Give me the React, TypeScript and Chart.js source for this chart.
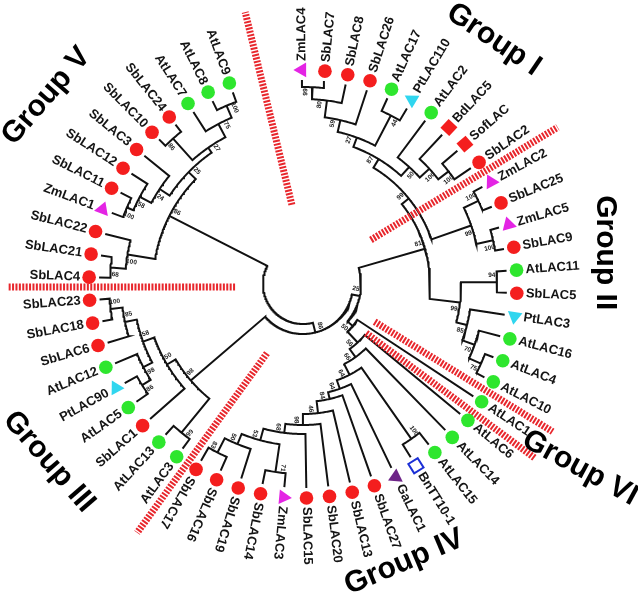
import React, { useEffect, useRef } from 'react';
import { Chart, registerables } from 'chart.js';
Chart.register(...registerables);

// ---------- DATA ----------
// leaves in clockwise order starting at the top (ZmLAC4)
const leafNames = [
  'ZmLAC4', 'SbLAC7', 'SbLAC8', 'SbLAC26', 'AtLAC17', 'PtLAC110', 'AtLAC2', 'BdLAC5', 'SofLAC', 'SbLAC2',
  'ZmLAC2', 'SbLAC25', 'ZmLAC5', 'SbLAC9', 'AtLAC11', 'SbLAC5', 'PtLAC3', 'AtLAC16', 'AtLAC4', 'AtLAC10',
  'AtLAC1', 'AtLAC6', 'AtLAC14', 'AtLAC15', 'BnTT10-1', 'GaLAC1', 'SbLAC27', 'SbLAC13', 'SbLAC20', 'SbLAC15',
  'ZmLAC3', 'SbLAC14', 'SbLAC19', 'SbLAC16', 'SbLAC17', 'AtLAC3', 'AtLAC13', 'SbLAC1', 'AtLAC5', 'PtLAC90',
  'AtLAC12', 'SbLAC6', 'SbLAC18', 'SbLAC23', 'SbLAC4', 'SbLAC21', 'SbLAC22', 'ZmLAC1', 'SbLAC11', 'SbLAC12',
  'SbLAC3', 'SbLAC10', 'SbLAC24', 'AtLAC7', 'AtLAC8', 'AtLAC9',
];

// internal nodes (clades)
const cladeIds = [
  'I99a', 'I80', 'I59', 'I44', 'I27', 'I100b', 'I100a', 'I50', 'I87',
  'II100a', 'II100b', 'II99a', 'I99',
  'II94', 'II75', 'II70', 'II85', 'II99b', 'N81',
  'IV83', 'IV50b', 'IV71', 'IV53', 'IV68', 'IV98', 'IV46', 'IV84', 'IV64b', 'IV100', 'IV64a', 'IV66', 'IV56', 'IV50',
  'N25',
  'III100', 'III85', 'III86', 'III98b', 'III58', 'III50', 'III99', 'III98',
  'N86',
  'V68', 'V100a', 'V100b', 'V58', 'V24', 'V86b', 'V100c', 'V75', 'V27', 'V25', 'V86',
  'root',
];
const cladeChildren = [
  ['ZmLAC4', 'SbLAC7'], ['I99a', 'SbLAC8'], ['I80', 'SbLAC26'], ['AtLAC17', 'PtLAC110'], ['I59', 'I44'],
  ['SofLAC', 'SbLAC2'], ['BdLAC5', 'I100b'], ['AtLAC2', 'I100a'], ['I27', 'I50'],
  ['ZmLAC2', 'SbLAC25'], ['ZmLAC5', 'SbLAC9'], ['II100a', 'II100b'], ['I87', 'II99a'],
  ['AtLAC11', 'SbLAC5'], ['AtLAC4', 'AtLAC10'], ['AtLAC16', 'II75'], ['PtLAC3', 'II70'], ['II94', 'II85'], ['I99', 'II99b'],
  ['SbLAC17', 'SbLAC16'], ['IV83', 'SbLAC19'], ['SbLAC14', 'ZmLAC3'], ['IV50b', 'IV71'], ['IV53', 'SbLAC15'],
  ['IV68', 'SbLAC20'], ['IV98', 'SbLAC13'], ['IV46', 'SbLAC27'], ['IV84', 'GaLAC1'], ['BnTT10-1', 'AtLAC15'],
  ['IV64b', 'IV100'], ['IV64a', 'AtLAC14'], ['IV66', 'AtLAC6'], ['IV56', 'AtLAC1'],
  ['IV50', 'N81'],
  ['SbLAC23', 'SbLAC18'], ['III100', 'SbLAC6'], ['PtLAC90', 'AtLAC5'], ['AtLAC12', 'III86'], ['III85', 'III98b'],
  ['III58', 'SbLAC1'], ['AtLAC13', 'AtLAC3'], ['III50', 'III99'],
  ['III98', 'N25'],
  ['SbLAC21', 'SbLAC4'], ['SbLAC22', 'V68'], ['ZmLAC1', 'SbLAC11'], ['V100b', 'SbLAC12'], ['V58', 'SbLAC3'],
  ['SbLAC10', 'SbLAC24'], ['AtLAC8', 'AtLAC9'], ['AtLAC7', 'V100c'], ['V86b', 'V75'], ['V24', 'V27'], ['V100a', 'V25'],
  ['V86', 'N86'],
];
const cladeSupport = [
  99, 80, 59, 44, 27, 100, 100, 50, 87,
  100, 100, 99, 99,
  94, 75, 70, 85, 99, 81,
  83, 50, 71, 53, 68, 98, 46, 84, 64, 100, 64, 66, 56, 50,
  25,
  100, 85, 86, 98, 58, 50, 99, 98,
  86,
  68, 100, 100, 58, 24, 86, 100, 75, 27, 25, 86,
  null,
];
const cladeDepth = [
  197, 185, 168, 190, 156, 184, 171, 158, 146,
  194, 195, 178, 136,
  194, 195, 182, 169, 158, 127,
  189, 173, 190, 162, 150, 141, 130, 118, 111, 189, 102, 90, 80, 65,
  58,
  194, 182, 190, 180, 170, 158, 192, 148,
  50,
  193, 178, 192, 185, 172, 195, 194, 181, 166, 160, 150,
  40,
];

const groupNames = ['Group I', 'Group II', 'Group III', 'Group IV', 'Group V', 'Group VI'];
// group separators: [angle0, r0, angle1, r1]
const separators = [
  [98, 80, 102, 278],
  [33, 81, 31.6, 299],
  [182.5, 68, 180.6, 295],
  [-117.5, 78, -123.7, 299],
  [-27.8, 81, -30.6, 290],
  [-37.9, 80, -36.9, 290],
];

// ---------- LAYOUT / STYLE ----------
const A0 = 90.3;
const STEP = 6.185;
const TIP_R = 204;
const MARK_R = 214;
const LABEL_R = 223;
const groupPlacement: Record<string, [number, number, number]> = {
  'Group I': [52, 310, 34],
  'Group II': [5.9, 304, 90],
  'Group III': [-145, 310, 49],
  'Group IV': [-70, 296, -23],
  'Group V': [143.8, 318, -49],
  'Group VI': [-33.6, 332.6, 28.6],
};

const leafIdx = new Map(leafNames.map((n, i) => [n, i] as [string, number]));
const cladeIdx = new Map(cladeIds.map((n, i) => [n, i] as [string, number]));
const parentOf = new Map<string, string>();
cladeChildren.forEach((kids, k) => kids.forEach((c) => parentOf.set(c, cladeIds[k])));

function angleOf(id: string): number {
  if (leafIdx.has(id)) return A0 - (leafIdx.get(id) as number) * STEP;
  const as = cladeChildren[cladeIdx.get(id) as number].map(angleOf);
  return (Math.min(...as) + Math.max(...as)) / 2;
}
function depthOf(id: string): number {
  return leafIdx.has(id) ? TIP_R : cladeDepth[cladeIdx.get(id) as number];
}
const D = Math.PI / 180;
const P = (a: number, r: number) => ({ x: r * Math.cos(a * D), y: r * Math.sin(a * D) });
const outward = (a: number) => a > -123;

type Kind = { style: string; fill: string; stroke: string; radius: number; border: number; down?: boolean; tri?: boolean; sq?: boolean };
const KINDS: Record<string, Kind> = {
  sb: { style: 'circle', fill: '#f41e1e', stroke: '#f41e1e', radius: 6.8, border: 0 },
  at: { style: 'circle', fill: '#2ee62e', stroke: '#2ee62e', radius: 6.8, border: 0 },
  zm: { style: 'triangle', fill: '#e424e4', stroke: '#e424e4', radius: 8.5, border: 0, tri: true },
  pt: { style: 'triangle', fill: '#30d6ef', stroke: '#30d6ef', radius: 8.5, border: 0, tri: true },
  ptd: { style: 'triangle', fill: '#30d6ef', stroke: '#30d6ef', radius: 8.5, border: 0, tri: true, down: true },
  ga: { style: 'triangle', fill: '#6e2488', stroke: '#6e2488', radius: 8.5, border: 0, tri: true, down: true },
  dm: { style: 'rect', fill: '#f41e1e', stroke: '#f41e1e', radius: 8.5, border: 0, sq: true },
  bn: { style: 'rect', fill: '#ffffff', stroke: '#1b2fd6', radius: 7.8, border: 2, sq: true },
};
function kindOf(n: string): string {
  if (n === 'PtLAC3') return 'ptd';
  if (n.startsWith('Sb')) return 'sb';
  if (n.startsWith('At')) return 'at';
  if (n.startsWith('Zm')) return 'zm';
  if (n.startsWith('Pt')) return 'pt';
  if (n.startsWith('Ga')) return 'ga';
  if (n.startsWith('Bn')) return 'bn';
  return 'dm';
}

export default function App() {
  const ref = useRef<HTMLCanvasElement>(null);
  useEffect(() => {
    if (!ref.current) return;

    // branches
    const branchData: any[] = [];
    cladeIds.forEach((id, k) => {
      const r = cladeDepth[k];
      const kids = cladeChildren[k].map((c) => ({ a: angleOf(c), r: depthOf(c) })).sort((p, q) => q.a - p.a);
      const f = kids[0];
      const l = kids[kids.length - 1];
      branchData.push(P(f.a, f.r));
      const n = Math.max(2, Math.ceil((f.a - l.a) / 0.5));
      for (let s = 0; s <= n; s++) branchData.push(P(f.a - ((f.a - l.a) * s) / n, r));
      branchData.push(P(l.a, l.r));
      for (let j = 1; j < kids.length - 1; j++) {
        branchData.push({ x: 0, y: null });
        branchData.push(P(kids[j].a, r));
        branchData.push(P(kids[j].a, kids[j].r));
      }
      branchData.push({ x: 0, y: null });
    });

    // separators
    const sepData: any[] = [];
    separators.forEach(([a0, r0, a1, r1]) => {
      sepData.push(P(a0, r0), P(a1, r1), { x: 0, y: null });
    });

    // markers
    const markerSets = Object.keys(KINDS).map((key) => {
      const k = KINDS[key];
      const names = leafNames.filter((n) => kindOf(n) === key);
      const rot = names.map((n) => {
        const a = angleOf(n);
        if (k.tri) return (outward(a) ? -a : 180 - a) + (k.down ? 180 : 0);
        if (k.sq) return -a;
        return 0;
      });
      return {
        label: key,
        data: names.map((n) => P(angleOf(n), MARK_R)),
        showLine: false,
        pointStyle: k.style,
        pointRadius: k.radius,
        pointHoverRadius: k.radius,
        pointRotation: rot,
        pointBackgroundColor: k.fill,
        pointBorderColor: k.stroke,
        pointBorderWidth: k.border,
      };
    });

    const textPlugin = {
      id: 'treeText',
      afterDatasetsDraw(chart: any) {
        const { ctx } = chart;
        const xs = chart.scales.x;
        const ys = chart.scales.y;
        const px = (p: { x: number; y: number }) => [xs.getPixelForValue(p.x), ys.getPixelForValue(p.y)];
        ctx.save();
        // leaf labels
        ctx.font = 'bold 13px "Liberation Sans", Arial, sans-serif';
        ctx.fillStyle = '#141414';
        ctx.textBaseline = 'middle';
        leafNames.forEach((n) => {
          const a = angleOf(n);
          const out = outward(a);
          const [X, Y] = px(P(a, LABEL_R));
          ctx.save();
          ctx.translate(X, Y);
          ctx.rotate((out ? -a : 180 - a) * D);
          ctx.textAlign = out ? 'left' : 'right';
          ctx.fillText(n, 0, 0);
          ctx.restore();
        });
        // support values
        ctx.font = 'bold 6.5px "Liberation Sans", Arial, sans-serif';
        ctx.fillStyle = '#222';
        cladeIds.forEach((id, k) => {
          const sup = cladeSupport[k];
          if (sup === null || sup === undefined) return;
          const a = angleOf(id);
          const r = cladeDepth[k];
          const par = parentOf.get(id);
          let sign = 1;
          if (par) {
            const sib = cladeChildren[cladeIdx.get(par) as number].find((c) => c !== id) as string;
            sign = a >= angleOf(sib) ? 1 : -1;
          }
          const la = a + sign * (7 / r) / D;
          const [X, Y] = px(P(la, r - 5));
          const out = outward(a);
          ctx.save();
          ctx.translate(X, Y);
          ctx.rotate((out ? -a : 180 - a) * D);
          ctx.textAlign = 'center';
          ctx.fillText(String(sup), 0, 0);
          ctx.restore();
        });
        // group labels
        ctx.font = 'bold 30px "Liberation Sans", Arial, sans-serif';
        ctx.fillStyle = '#000';
        ctx.textAlign = 'center';
        ctx.textBaseline = 'middle';
        groupNames.forEach((g) => {
          const [a, r, rot] = groupPlacement[g];
          const [X, Y] = px(P(a, r));
          ctx.save();
          ctx.translate(X, Y);
          ctx.rotate(rot * D);
          ctx.fillText(g, 0, 0);
          ctx.restore();
        });
        ctx.restore();
      },
    };

    const chart = new Chart(ref.current, {
      type: 'scatter',
      data: {
        datasets: [
          ...markerSets,
          {
            label: 'separators',
            data: sepData,
            showLine: true,
            pointRadius: 0,
            borderColor: '#e8262c',
            borderWidth: 7,
            borderDash: [2, 1.4],
            borderCapStyle: 'butt',
          },
          {
            label: 'branches',
            data: branchData,
            showLine: true,
            pointRadius: 0,
            borderColor: '#111',
            borderWidth: 2,
            borderJoinStyle: 'miter',
            borderCapStyle: 'butt',
          },
        ] as any,
      },
      options: {
        responsive: false,
        animation: false,
        events: [],
        layout: { padding: 0, autoPadding: false },
        scales: {
          x: { type: 'linear', min: -303, max: 335, display: false },
          y: { type: 'linear', min: -315, max: 284, display: false },
        },
        plugins: { legend: { display: false }, tooltip: { enabled: false } },
      },
      plugins: [textPlugin],
    } as any);
    return () => chart.destroy();
  }, []);

  return (
    <div style={{ position: 'absolute', left: 0, top: 0, width: 638, height: 599, background: '#fff' }}>
      <canvas ref={ref} width={638} height={599} style={{ display: 'block' }} />
    </div>
  );
}
